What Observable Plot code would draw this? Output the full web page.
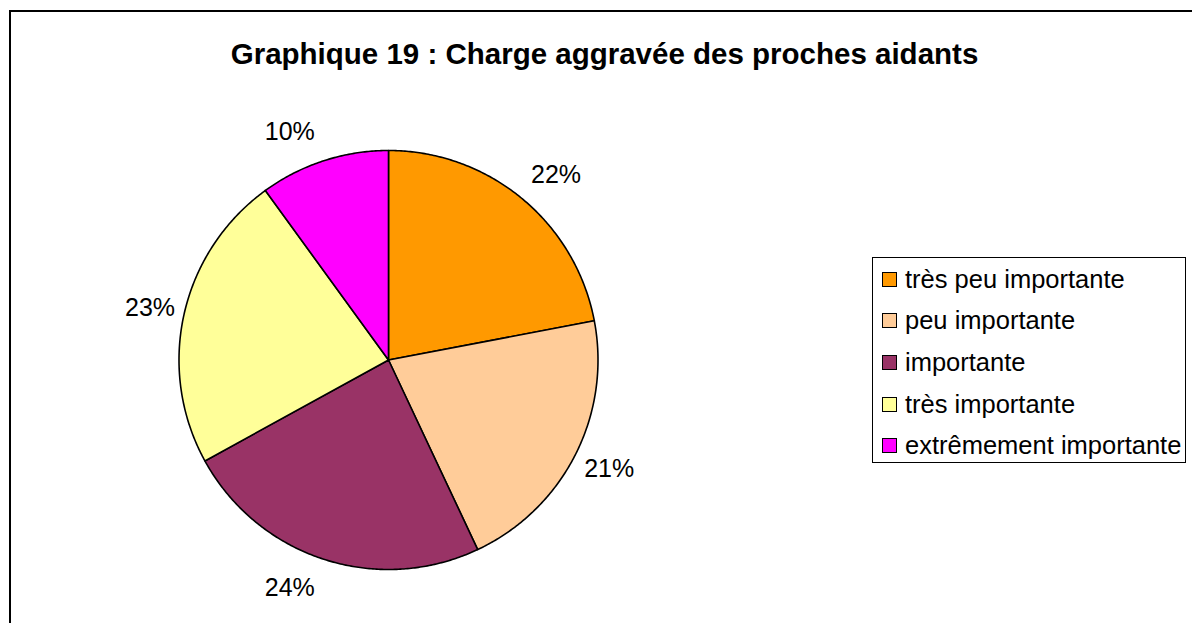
<!DOCTYPE html>
<html>
<head>
<meta charset="utf-8">
<script src="https://cdn.jsdelivr.net/npm/d3@7"></script>
<script src="https://cdn.jsdelivr.net/npm/@observablehq/plot@0.6"></script>
<style>
  body { margin: 0; background: #fff; }
  #wrap { position: relative; width: 1192px; height: 623px; overflow: hidden; font-family: "Liberation Sans", Arial, sans-serif; background: #fff; }
  #frame { position: absolute; left: 9px; top: 10px; width: 1400px; height: 800px; border: 2px solid #000; }
  #chart { position: absolute; left: 0; top: 0; }
  #title { position: absolute; left: 0; width: 1209px; top: 37px; text-align: center; font-weight: bold; font-size: 29.5px; color: #000; white-space: nowrap; }
  #legend { position: absolute; left: 872px; top: 257px; width: 314px; height: 206px; border: 1px solid #000; box-sizing: border-box; background: #fff; }
  .row { position: absolute; left: 0; height: 30px; display: flex; align-items: center; font-size: 25.5px; color: #000; white-space: nowrap; }
  .sw { width: 13px; height: 13px; border: 1px solid #000; margin-left: 9px; margin-right: 8px; flex: none; }
</style>
</head>
<body>
<div id="wrap">
  <div id="frame"></div>
  <div id="chart"></div>
  <div id="title">Graphique 19 : Charge aggravée des proches aidants</div>
  <div id="legend"></div>
</div>
<script>
const categories = ["très peu importante", "peu importante", "importante", "très importante", "extrêmement importante"];
const values = [22, 21, 24, 23, 10];
const labels = ["22%", "21%", "24%", "23%", "10%"];
const colors = ["#FF9900", "#FFCC99", "#993366", "#FFFF99", "#FF00FF"];

// pie geometry (angles from d3.pie, 0 = 12 o'clock, clockwise)
const arcs = d3.pie().sort(null).value(d => d)(values);
const R = 209.5, CX = 388, CY = 359.5;
const slices = [];
arcs.forEach((a, i) => {
  const key = categories[i];
  slices.push({key, x: 0, y: 0});
  const n = Math.max(2, Math.ceil((a.endAngle - a.startAngle) / (Math.PI / 360)));
  for (let k = 0; k <= n; k++) {
    const t = a.startAngle + (a.endAngle - a.startAngle) * k / n;
    slices.push({key, x: Math.sin(t), y: Math.cos(t)});
  }
  slices.push({key, x: 0, y: 0});
});
const labelRows = arcs.map((a, i) => {
  const m = (a.startAngle + a.endAngle) / 2;
  const s = Math.sin(m), c = Math.cos(m);
  return {text: labels[i], x: s + Math.sign(s) * 34 / R, y: c + c * 30 / R};
});

const plot = Plot.plot({
  width: 1192,
  height: 623,
  margin: 0,
  style: {background: "transparent", fontFamily: "'Liberation Sans', Arial, sans-serif"},
  x: {domain: [-1, 1], range: [CX - R, CX + R], axis: null},
  y: {domain: [-1, 1], range: [CY + R, CY - R], axis: null},
  color: {domain: categories, range: colors},
  marks: [
    Plot.line(slices, {x: "x", y: "y", z: "key", fill: "key", stroke: "#000", strokeWidth: 1.6, strokeLinejoin: "round", curve: "linear"}),
    Plot.text(labelRows, {x: "x", y: "y", text: "text", fontSize: 25, fill: "#000"})
  ]
});
document.getElementById("chart").appendChild(plot);

const legend = document.getElementById("legend");
categories.forEach((c, i) => {
  const row = document.createElement("div");
  row.className = "row";
  row.style.top = (22.3 + i * 41.6 - 15 - 1) + "px";
  const sw = document.createElement("div");
  sw.className = "sw";
  sw.style.background = colors[i];
  const tx = document.createElement("span");
  tx.textContent = c;
  row.appendChild(sw);
  row.appendChild(tx);
  legend.appendChild(row);
});
</script>
</body>
</html>
